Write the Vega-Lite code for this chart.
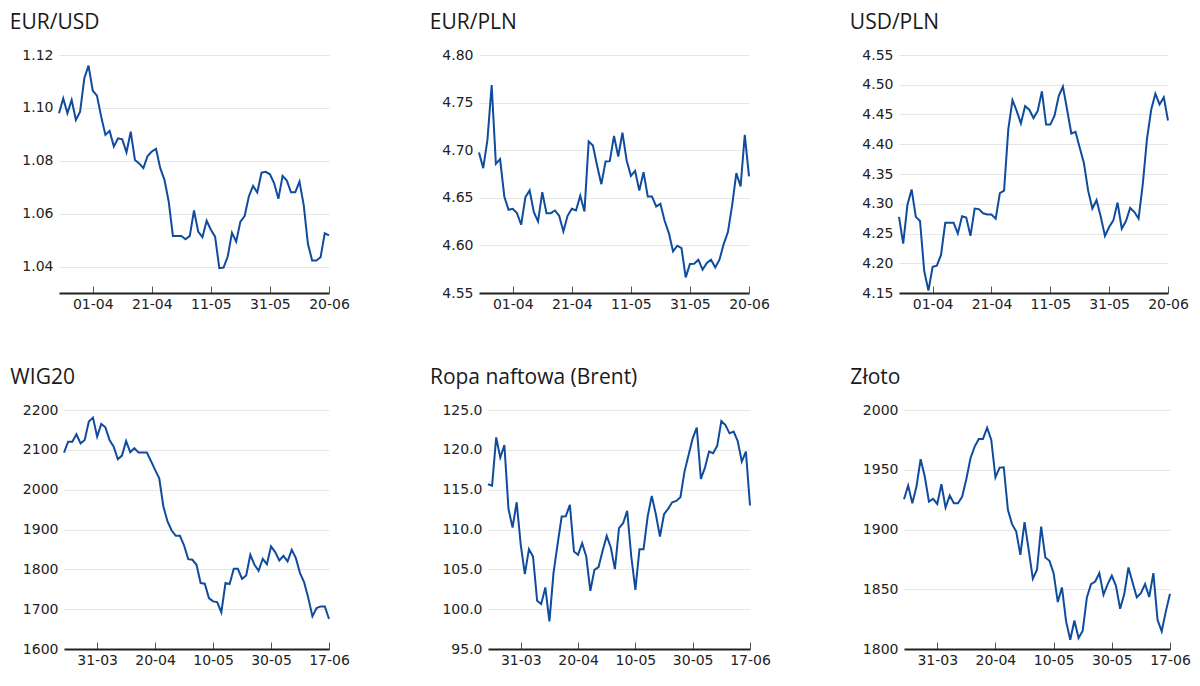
{
"$schema":"https://vega.github.io/schema/vega-lite/v6.json",
"background":"white",
"padding":{"left":9,"top":12,"right":5,"bottom":5},
"spacing":56,
"vconcat":[
{"hconcat":[
{"title":"EUR/USD","width":270,"height":238,
"data":{"values":[{"d":"22-03","v":1.098},{"d":"23-03","v":1.1036},{"d":"24-03","v":1.098},{"d":"25-03","v":1.103},{"d":"28-03","v":1.0954},{"d":"29-03","v":1.0986},{"d":"30-03","v":1.1112},{"d":"31-03","v":1.116},{"d":"01-04","v":1.1065},{"d":"04-04","v":1.1046},{"d":"05-04","v":1.0967},{"d":"06-04","v":1.0898},{"d":"07-04","v":1.0913},{"d":"08-04","v":1.0854},{"d":"11-04","v":1.0885},{"d":"12-04","v":1.0881},{"d":"13-04","v":1.0832},{"d":"14-04","v":1.091},{"d":"15-04","v":1.0803},{"d":"18-04","v":1.079},{"d":"19-04","v":1.0772},{"d":"20-04","v":1.0818},{"d":"21-04","v":1.0835},{"d":"22-04","v":1.0845},{"d":"25-04","v":1.0772},{"d":"26-04","v":1.0728},{"d":"27-04","v":1.0646},{"d":"28-04","v":1.0516},{"d":"29-04","v":1.0516},{"d":"02-05","v":1.0516},{"d":"03-05","v":1.0503},{"d":"04-05","v":1.0516},{"d":"05-05","v":1.0612},{"d":"06-05","v":1.0532},{"d":"09-05","v":1.0511},{"d":"10-05","v":1.0573},{"d":"11-05","v":1.0539},{"d":"12-05","v":1.0513},{"d":"13-05","v":1.0394},{"d":"16-05","v":1.0396},{"d":"17-05","v":1.0438},{"d":"18-05","v":1.0528},{"d":"19-05","v":1.0494},{"d":"20-05","v":1.057},{"d":"23-05","v":1.0591},{"d":"24-05","v":1.0665},{"d":"25-05","v":1.0705},{"d":"26-05","v":1.068},{"d":"27-05","v":1.0755},{"d":"30-05","v":1.0758},{"d":"31-05","v":1.0749},{"d":"01-06","v":1.0715},{"d":"02-06","v":1.0656},{"d":"03-06","v":1.0743},{"d":"06-06","v":1.0725},{"d":"07-06","v":1.0681},{"d":"08-06","v":1.0681},{"d":"09-06","v":1.0721},{"d":"10-06","v":1.0633},{"d":"13-06","v":1.0486},{"d":"14-06","v":1.0423},{"d":"15-06","v":1.0423},{"d":"16-06","v":1.0435},{"d":"17-06","v":1.0526},{"d":"20-06","v":1.0518}]},
"mark":{"type":"line","color":"#0f4c9e","strokeWidth":2},
"encoding":{
"x":{"field":"d","type":"ordinal","sort":null,"scale":{"type":"point","padding":0},"axis":{"values":["01-04","21-04","11-05","31-05","20-06"],"title":null,"labelAngle":0}},
"y":{"field":"v","type":"quantitative","scale":{"domain":[1.03,1.12],"nice":false,"zero":false},"axis":{"values":[1.04,1.06,1.08,1.10,1.12],"format":".2f","title":null}}}},
{"title":"EUR/PLN","width":270,"height":238,
"data":{"values":[{"d":"22-03","v":4.6976},{"d":"23-03","v":4.6811},{"d":"24-03","v":4.7108},{"d":"25-03","v":4.7685},{"d":"28-03","v":4.6857},{"d":"29-03","v":4.6906},{"d":"30-03","v":4.6514},{"d":"31-03","v":4.6374},{"d":"01-04","v":4.6385},{"d":"04-04","v":4.6339},{"d":"05-04","v":4.6217},{"d":"06-04","v":4.6507},{"d":"07-04","v":4.6577},{"d":"08-04","v":4.635},{"d":"11-04","v":4.6252},{"d":"12-04","v":4.6559},{"d":"13-04","v":4.6339},{"d":"14-04","v":4.6339},{"d":"15-04","v":4.6367},{"d":"18-04","v":4.6311},{"d":"19-04","v":4.6147},{"d":"20-04","v":4.6311},{"d":"21-04","v":4.6385},{"d":"22-04","v":4.6367},{"d":"25-04","v":4.6521},{"d":"26-04","v":4.6357},{"d":"27-04","v":4.7091},{"d":"28-04","v":4.7049},{"d":"29-04","v":4.6836},{"d":"02-05","v":4.6643},{"d":"03-05","v":4.6881},{"d":"04-05","v":4.6885},{"d":"05-05","v":4.715},{"d":"06-05","v":4.6934},{"d":"09-05","v":4.7185},{"d":"10-05","v":4.6892},{"d":"11-05","v":4.6731},{"d":"12-05","v":4.6783},{"d":"13-05","v":4.6577},{"d":"16-05","v":4.6769},{"d":"17-05","v":4.6514},{"d":"18-05","v":4.6514},{"d":"19-05","v":4.6409},{"d":"20-05","v":4.6437},{"d":"23-05","v":4.6259},{"d":"24-05","v":4.6129},{"d":"25-05","v":4.5937},{"d":"26-05","v":4.5997},{"d":"27-05","v":4.5972},{"d":"30-05","v":4.5664},{"d":"31-05","v":4.5804},{"d":"01-06","v":4.5808},{"d":"02-06","v":4.585},{"d":"03-06","v":4.5745},{"d":"06-06","v":4.5815},{"d":"07-06","v":4.585},{"d":"08-06","v":4.5769},{"d":"09-06","v":4.585},{"d":"10-06","v":4.6014},{"d":"13-06","v":4.614},{"d":"14-06","v":4.642},{"d":"15-06","v":4.6759},{"d":"16-06","v":4.6619},{"d":"17-06","v":4.7161},{"d":"20-06","v":4.6724}]},
"mark":{"type":"line","color":"#0f4c9e","strokeWidth":2},
"encoding":{
"x":{"field":"d","type":"ordinal","sort":null,"scale":{"type":"point","padding":0},"axis":{"values":["01-04","21-04","11-05","31-05","20-06"],"title":null,"labelAngle":0}},
"y":{"field":"v","type":"quantitative","scale":{"domain":[4.55,4.80],"nice":false,"zero":false},"axis":{"values":[4.55,4.60,4.65,4.70,4.75,4.80],"format":".2f","title":null}}}},
{"title":"USD/PLN","width":269,"height":238,
"data":{"values":[{"d":"22-03","v":4.278},{"d":"23-03","v":4.233},{"d":"24-03","v":4.298},{"d":"25-03","v":4.324},{"d":"28-03","v":4.278},{"d":"29-03","v":4.271},{"d":"30-03","v":4.187},{"d":"31-03","v":4.154},{"d":"01-04","v":4.194},{"d":"04-04","v":4.196},{"d":"05-04","v":4.214},{"d":"06-04","v":4.268},{"d":"07-04","v":4.268},{"d":"08-04","v":4.268},{"d":"11-04","v":4.25},{"d":"12-04","v":4.279},{"d":"13-04","v":4.277},{"d":"14-04","v":4.246},{"d":"15-04","v":4.292},{"d":"18-04","v":4.291},{"d":"19-04","v":4.284},{"d":"20-04","v":4.282},{"d":"21-04","v":4.282},{"d":"22-04","v":4.275},{"d":"25-04","v":4.318},{"d":"26-04","v":4.322},{"d":"27-04","v":4.425},{"d":"28-04","v":4.474},{"d":"29-04","v":4.456},{"d":"02-05","v":4.435},{"d":"03-05","v":4.464},{"d":"04-05","v":4.458},{"d":"05-05","v":4.444},{"d":"06-05","v":4.456},{"d":"09-05","v":4.489},{"d":"10-05","v":4.433},{"d":"11-05","v":4.433},{"d":"12-05","v":4.448},{"d":"13-05","v":4.481},{"d":"16-05","v":4.497},{"d":"17-05","v":4.458},{"d":"18-05","v":4.418},{"d":"19-05","v":4.421},{"d":"20-05","v":4.394},{"d":"23-05","v":4.368},{"d":"24-05","v":4.322},{"d":"25-05","v":4.292},{"d":"26-05","v":4.306},{"d":"27-05","v":4.278},{"d":"30-05","v":4.246},{"d":"31-05","v":4.261},{"d":"01-06","v":4.272},{"d":"02-06","v":4.302},{"d":"03-06","v":4.258},{"d":"06-06","v":4.271},{"d":"07-06","v":4.293},{"d":"08-06","v":4.286},{"d":"09-06","v":4.275},{"d":"10-06","v":4.333},{"d":"13-06","v":4.409},{"d":"14-06","v":4.458},{"d":"15-06","v":4.485},{"d":"16-06","v":4.467},{"d":"17-06","v":4.479},{"d":"20-06","v":4.44}]},
"mark":{"type":"line","color":"#0f4c9e","strokeWidth":2},
"encoding":{
"x":{"field":"d","type":"ordinal","sort":null,"scale":{"type":"point","padding":0},"axis":{"values":["01-04","21-04","11-05","31-05","20-06"],"title":null,"labelAngle":0}},
"y":{"field":"v","type":"quantitative","scale":{"domain":[4.15,4.55],"nice":false,"zero":false},"axis":{"values":[4.15,4.20,4.25,4.30,4.35,4.40,4.45,4.50,4.55],"format":".2f","title":null}}}}
],"spacing":79},
{"hconcat":[
{"title":"WIG20","width":270,"height":239,
"data":{"values":[{"d":"21-03","v":2093},{"d":"22-03","v":2120.6},{"d":"23-03","v":2120.6},{"d":"24-03","v":2139},{"d":"25-03","v":2116.4},{"d":"28-03","v":2124.8},{"d":"29-03","v":2170.8},{"d":"30-03","v":2180.8},{"d":"31-03","v":2133.1},{"d":"01-04","v":2164.9},{"d":"04-04","v":2156.5},{"d":"05-04","v":2124.8},{"d":"06-04","v":2108.1},{"d":"07-04","v":2076.3},{"d":"08-04","v":2085.5},{"d":"11-04","v":2122.3},{"d":"12-04","v":2093.9},{"d":"13-04","v":2103.9},{"d":"14-04","v":2093},{"d":"15-04","v":2093},{"d":"18-04","v":2093},{"d":"19-04","v":2072.1},{"d":"20-04","v":2049.6},{"d":"21-04","v":2028.7},{"d":"22-04","v":1957.7},{"d":"25-04","v":1920.1},{"d":"26-04","v":1897.5},{"d":"27-04","v":1884.1},{"d":"28-04","v":1884.1},{"d":"29-04","v":1859.9},{"d":"02-05","v":1825.6},{"d":"03-05","v":1824},{"d":"04-05","v":1811.4},{"d":"05-05","v":1765.5},{"d":"06-05","v":1763.8},{"d":"09-05","v":1727.9},{"d":"10-05","v":1719.5},{"d":"11-05","v":1717.8},{"d":"12-05","v":1691.9},{"d":"13-05","v":1765.5},{"d":"16-05","v":1763},{"d":"17-05","v":1801.4},{"d":"18-05","v":1801.4},{"d":"19-05","v":1776.3},{"d":"20-05","v":1784.7},{"d":"23-05","v":1836.5},{"d":"24-05","v":1811.4},{"d":"25-05","v":1796.4},{"d":"26-05","v":1826.5},{"d":"27-05","v":1813.1},{"d":"30-05","v":1857.4},{"d":"31-05","v":1843.2},{"d":"01-06","v":1822.3},{"d":"02-06","v":1834},{"d":"03-06","v":1819.8},{"d":"06-06","v":1849},{"d":"07-06","v":1828.1},{"d":"08-06","v":1790.5},{"d":"09-06","v":1767.1},{"d":"10-06","v":1727.9},{"d":"13-06","v":1681.9},{"d":"14-06","v":1702.8},{"d":"15-06","v":1707},{"d":"16-06","v":1707},{"d":"17-06","v":1675.2}]},
"mark":{"type":"line","color":"#0f4c9e","strokeWidth":2},
"encoding":{
"x":{"field":"d","type":"ordinal","sort":null,"scale":{"type":"point","padding":0,"range":[5,270]},"axis":{"values":["31-03","20-04","10-05","30-05","17-06"],"title":null,"labelAngle":0}},
"y":{"field":"v","type":"quantitative","scale":{"domain":[1600,2200],"nice":false,"zero":false},"axis":{"values":[1600,1700,1800,1900,2000,2100,2200],"format":"d","title":null,"offset":-5}}}},
{"title":"Ropa naftowa (Brent)","width":262,"height":239,
"data":{"values":[{"d":"21-03","v":115.68},{"d":"22-03","v":115.51},{"d":"23-03","v":121.57},{"d":"24-03","v":119.02},{"d":"25-03","v":120.61},{"d":"28-03","v":112.59},{"d":"29-03","v":110.25},{"d":"30-03","v":113.42},{"d":"31-03","v":108.08},{"d":"01-04","v":104.4},{"d":"04-04","v":107.53},{"d":"05-04","v":106.61},{"d":"06-04","v":101.06},{"d":"07-04","v":100.64},{"d":"08-04","v":102.73},{"d":"11-04","v":98.46},{"d":"12-04","v":104.52},{"d":"13-04","v":108.16},{"d":"14-04","v":111.63},{"d":"15-04","v":111.67},{"d":"18-04","v":113.09},{"d":"19-04","v":107.24},{"d":"20-04","v":106.82},{"d":"21-04","v":108.28},{"d":"22-04","v":106.61},{"d":"25-04","v":102.31},{"d":"26-04","v":104.94},{"d":"27-04","v":105.28},{"d":"28-04","v":107.32},{"d":"29-04","v":109.2},{"d":"02-05","v":107.74},{"d":"03-05","v":105.03},{"d":"04-05","v":110.17},{"d":"05-05","v":110.79},{"d":"06-05","v":112.34},{"d":"09-05","v":106.61},{"d":"10-05","v":102.43},{"d":"11-05","v":107.53},{"d":"12-05","v":107.53},{"d":"13-05","v":111.63},{"d":"16-05","v":114.22},{"d":"17-05","v":111.92},{"d":"18-05","v":109.12},{"d":"19-05","v":111.92},{"d":"20-05","v":112.59},{"d":"23-05","v":113.42},{"d":"24-05","v":113.59},{"d":"25-05","v":114.05},{"d":"26-05","v":117.27},{"d":"27-05","v":119.36},{"d":"30-05","v":121.45},{"d":"31-05","v":122.79},{"d":"01-06","v":116.35},{"d":"02-06","v":117.77},{"d":"03-06","v":119.78},{"d":"06-06","v":119.57},{"d":"07-06","v":120.53},{"d":"08-06","v":123.62},{"d":"09-06","v":123.12},{"d":"10-06","v":122.07},{"d":"13-06","v":122.28},{"d":"14-06","v":121.11},{"d":"15-06","v":118.52},{"d":"16-06","v":119.78},{"d":"17-06","v":113.01}]},
"mark":{"type":"line","color":"#0f4c9e","strokeWidth":2},
"encoding":{
"x":{"field":"d","type":"ordinal","sort":null,"scale":{"type":"point","padding":0},"axis":{"values":["31-03","20-04","10-05","30-05","17-06"],"title":null,"labelAngle":0}},
"y":{"field":"v","type":"quantitative","scale":{"domain":[95,125],"nice":false,"zero":false},"axis":{"values":[95,100,105,110,115,120,125],"format":".1f","title":null}}}},
{"title":"Złoto","width":266,"height":239,
"data":{"values":[{"d":"21-03","v":1925.3},{"d":"22-03","v":1936.8},{"d":"23-03","v":1922},{"d":"24-03","v":1935.9},{"d":"25-03","v":1958.8},{"d":"28-03","v":1944.3},{"d":"29-03","v":1923.4},{"d":"30-03","v":1925.6},{"d":"31-03","v":1921.4},{"d":"01-04","v":1937.9},{"d":"04-04","v":1918.4},{"d":"05-04","v":1928.4},{"d":"06-04","v":1922},{"d":"07-04","v":1922},{"d":"08-04","v":1927.6},{"d":"11-04","v":1942.3},{"d":"12-04","v":1959.6},{"d":"13-04","v":1969.4},{"d":"14-04","v":1975.8},{"d":"15-04","v":1975.8},{"d":"18-04","v":1985.2},{"d":"19-04","v":1974.9},{"d":"20-04","v":1943.7},{"d":"21-04","v":1951.8},{"d":"22-04","v":1952.1},{"d":"25-04","v":1916.4},{"d":"26-04","v":1904.5},{"d":"27-04","v":1898.3},{"d":"28-04","v":1878.8},{"d":"29-04","v":1906.1},{"d":"02-05","v":1883},{"d":"03-05","v":1858.8},{"d":"04-05","v":1866.3},{"d":"05-05","v":1902.5},{"d":"06-05","v":1876.6},{"d":"09-05","v":1873.8},{"d":"10-05","v":1863.5},{"d":"11-05","v":1839.3},{"d":"12-05","v":1851.5},{"d":"13-05","v":1823.1},{"d":"16-05","v":1807.8},{"d":"17-05","v":1823.9},{"d":"18-05","v":1809.2},{"d":"19-05","v":1815.3},{"d":"20-05","v":1843.2},{"d":"23-05","v":1854.3},{"d":"24-05","v":1856.5},{"d":"25-05","v":1863.5},{"d":"26-05","v":1845.4},{"d":"27-05","v":1854.3},{"d":"30-05","v":1861.3},{"d":"31-05","v":1852.9},{"d":"01-06","v":1833.7},{"d":"02-06","v":1845.9},{"d":"03-06","v":1868.2},{"d":"06-06","v":1855.7},{"d":"07-06","v":1843.2},{"d":"08-06","v":1846.8},{"d":"09-06","v":1854.3},{"d":"10-06","v":1843.5},{"d":"13-06","v":1863.5},{"d":"14-06","v":1824.5},{"d":"15-06","v":1814.8},{"d":"16-06","v":1831.5},{"d":"17-06","v":1846.2}]},
"mark":{"type":"line","color":"#0f4c9e","strokeWidth":2},
"encoding":{
"x":{"field":"d","type":"ordinal","sort":null,"scale":{"type":"point","padding":0},"axis":{"values":["31-03","20-04","10-05","30-05","17-06"],"title":null,"labelAngle":0}},
"y":{"field":"v","type":"quantitative","scale":{"domain":[1800,2000],"nice":false,"zero":false},"axis":{"values":[1800,1850,1900,1950,2000],"format":"d","title":null}}}}
],"spacing":79}
],
"config":{
"view":{"stroke":null},
"title":{"anchor":"start","frame":"bounds","font":"Open Sans","fontSize":21,"fontWeight":500,"color":"#1a1a1a","dx":-12,"offset":15},
"axis":{"labelFont":"DejaVu Sans","labelFontSize":14,"labelColor":"#222222"},
"axisY":{"domain":false,"ticks":false,"grid":true,"gridColor":"#e6e6e6","gridWidth":1,"labelPadding":6},
"axisX":{"grid":false,"domain":true,"domainColor":"#222222","domainWidth":2,"ticks":true,"tickSize":-7,"tickColor":"#555555","tickWidth":1,"labelPadding":11}
}
}
